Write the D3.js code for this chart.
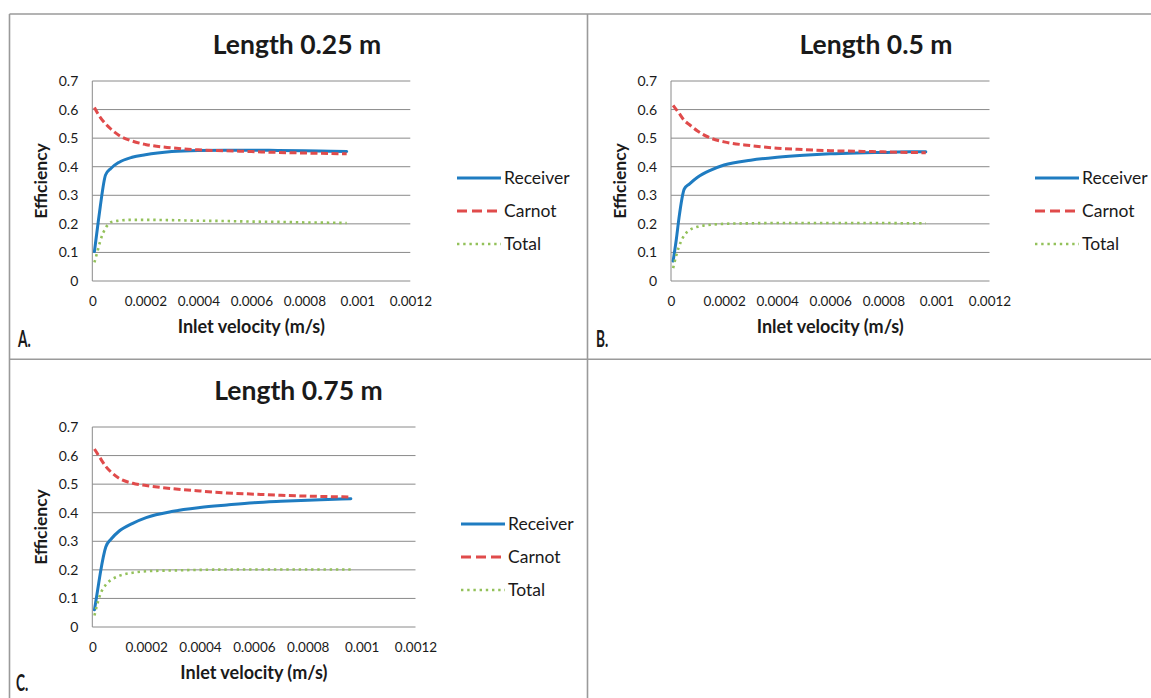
<!DOCTYPE html>
<html>
<head>
<meta charset="utf-8">
<script src="https://cdn.jsdelivr.net/npm/d3@7"></script>
<style>
  html, body { margin: 0; padding: 0; background: #fff; }
  svg { display: block; }
  text { font-family: Lato, "Open Sans", sans-serif; fill: #1a1a1a; }
</style>
</head>
<body>
<svg id="chart" width="1151" height="698"></svg>
<script>
// ---------- data ----------
const seriesNames = ["Receiver", "Carnot", "Total"];
const yTicks = [0, 0.1, 0.2, 0.3, 0.4, 0.5, 0.6, 0.7];
const xTicks = [0, 0.0002, 0.0004, 0.0006, 0.0008, 0.001, 0.0012];
const xTickLabels = ["0", "0.0002", "0.0004", "0.0006", "0.0008", "0.001", "0.0012"];
const panelTitles = ["Length 0.25 m", "Length 0.5 m", "Length 0.75 m"];
const panelLetters = ["A.", "B.", "C."];

const velocity = [0.000008, 0.00002, 0.00003, 0.00005, 0.00007, 0.0001, 0.00015, 0.0002,
                  0.0003, 0.0004, 0.0005, 0.0006, 0.0007, 0.0008, 0.0009, 0.00096];

const receiverA = [0.103, 0.19, 0.26, 0.371, 0.394, 0.415, 0.433, 0.442, 0.453, 0.457, 0.458, 0.458, 0.457, 0.456, 0.454, 0.453];
const carnotA   = [0.607, 0.587, 0.573, 0.55, 0.532, 0.51, 0.49, 0.478, 0.466, 0.459, 0.456, 0.453, 0.45, 0.448, 0.446, 0.445];
const totalA    = [0.065, 0.105, 0.14, 0.185, 0.206, 0.211, 0.214, 0.214, 0.213, 0.211, 0.21, 0.208, 0.207, 0.205, 0.204, 0.203];

const receiverB = [0.07, 0.145, 0.22, 0.322, 0.34, 0.363, 0.388, 0.406, 0.423, 0.433, 0.44, 0.445, 0.448, 0.45, 0.452, 0.452];
const carnotB   = [0.615, 0.6, 0.588, 0.562, 0.547, 0.525, 0.5, 0.487, 0.474, 0.465, 0.46, 0.456, 0.454, 0.452, 0.45, 0.449];
const totalB    = [0.045, 0.09, 0.12, 0.16, 0.178, 0.19, 0.197, 0.2, 0.202, 0.203, 0.203, 0.203, 0.203, 0.203, 0.202, 0.202];

const receiverC = [0.06, 0.13, 0.19, 0.28, 0.308, 0.336, 0.363, 0.383, 0.405, 0.418, 0.427, 0.435, 0.44, 0.444, 0.447, 0.449];
const carnotC   = [0.623, 0.605, 0.59, 0.562, 0.542, 0.52, 0.503, 0.495, 0.484, 0.476, 0.469, 0.465, 0.461, 0.458, 0.456, 0.455];
const totalC    = [0.04, 0.085, 0.115, 0.148, 0.165, 0.179, 0.19, 0.195, 0.198, 0.2, 0.201, 0.201, 0.201, 0.201, 0.201, 0.201];

// ---------- layout ----------
const svg = d3.select("#chart");
const colors = { Receiver: "#1f7cc1", Carnot: "#e04b4b", Total: "#93c15a" };
const styles = {
  Receiver: { width: 3, dash: null, legDash: null, cap: "round" },
  Carnot:   { width: 3, dash: "7,3.5", legDash: "10,5", cap: "butt" },
  Total:    { width: 2.6, dash: "2.4,3.8", legDash: "2.4,3.8", cap: "butt" }
};

// panel frames
const frame = svg.append("g").attr("stroke", "#9a9a9a").attr("stroke-width", 1.6).attr("fill", "none");
frame.append("line").attr("x1", 9.5).attr("x2", 1151).attr("y1", 14).attr("y2", 14);
frame.append("line").attr("x1", 9.5).attr("x2", 1151).attr("y1", 359.3).attr("y2", 359.3);
frame.append("line").attr("x1", 9.5).attr("x2", 9.5).attr("y1", 14).attr("y2", 698);
frame.append("line").attr("x1", 587.5).attr("x2", 587.5).attr("y1", 14).attr("y2", 698);

const panels = [
  { title: panelTitles[0], letter: panelLetters[0], x0: 92.3, x1: 410.3, yTop: 81, yBot: 281,
    titleX: 297, titleY: 54, legX: 457, legY: 178, letterX: 18, letterY: 347,
    data: [receiverA, carnotA, totalA] },
  { title: panelTitles[1], letter: panelLetters[1], x0: 671, x1: 989.5, yTop: 81, yBot: 281,
    titleX: 876, titleY: 54, legX: 1035, legY: 178, letterX: 596, letterY: 347,
    data: [receiverB, carnotB, totalB] },
  { title: panelTitles[2], letter: panelLetters[2], x0: 92.3, x1: 415.5, yTop: 427, yBot: 627,
    titleX: 298.5, titleY: 400, legX: 461, legY: 524, letterX: 16, letterY: 691,
    data: [receiverC, carnotC, totalC] }
];

panels.forEach(p => {
  const g = svg.append("g");
  const x = d3.scaleLinear().domain([0, 0.0012]).range([p.x0, p.x1]);
  const y = d3.scaleLinear().domain([0, 0.7]).range([p.yBot, p.yTop]);

  // gridlines
  g.append("g").selectAll("line").data(yTicks).join("line")
    .attr("x1", p.x0).attr("x2", p.x1)
    .attr("y1", d => y(d)).attr("y2", d => y(d))
    .attr("stroke", "#8a8a8a").attr("stroke-width", 1);
  // left axis line
  g.append("line").attr("x1", p.x0).attr("x2", p.x0).attr("y1", p.yTop).attr("y2", p.yBot)
    .attr("stroke", "#8a8a8a").attr("stroke-width", 1);

  // y axis labels
  const yAxis = d3.axisLeft(y).tickValues(yTicks).tickSize(0).tickPadding(14)
    .tickFormat(d => d3.format("~g")(d));
  const ya = g.append("g").attr("transform", `translate(${p.x0},0)`).call(yAxis);
  ya.select(".domain").remove();
  ya.selectAll("text").attr("font-family", "Lato, sans-serif").attr("font-size", 14).attr("fill", "#222");

  // x axis labels
  const xAxis = d3.axisBottom(x).tickValues(xTicks).tickSize(0).tickPadding(15)
    .tickFormat((d, i) => xTickLabels[i]);
  const xa = g.append("g").attr("transform", `translate(0,${p.yBot})`).call(xAxis);
  xa.select(".domain").remove();
  xa.selectAll("text").attr("font-family", "Lato, sans-serif").attr("font-size", 13.5).attr("fill", "#222");

  // lines
  seriesNames.forEach((name, si) => {
    const vals = p.data[si];
    const pts = velocity.map((v, i) => [v, vals[i]]);
    const line = d3.line().x(d => x(d[0])).y(d => y(d[1])).curve(d3.curveMonotoneX);
    const st = styles[name];
    g.append("path").datum(pts).attr("d", line)
      .attr("fill", "none").attr("stroke", colors[name])
      .attr("stroke-width", st.width).attr("stroke-linecap", st.cap)
      .attr("stroke-dasharray", st.dash);
  });

  // title
  g.append("text").attr("x", p.titleX).attr("y", p.titleY).attr("text-anchor", "middle")
    .attr("font-size", 26.5).attr("font-weight", 700).attr("fill", "#000").text(p.title);

  // axis titles
  g.append("text").attr("x", (p.x0 + p.x1) / 2).attr("y", p.yBot + 52).attr("text-anchor", "middle")
    .attr("font-size", 18).attr("font-weight", 700).attr("fill", "#000").text("Inlet velocity (m/s)");
  g.append("text").attr("transform", `translate(${p.x0 - 45},${(p.yTop + p.yBot) / 2}) rotate(-90)`)
    .attr("text-anchor", "middle").attr("font-size", 17.5).attr("font-weight", 700).attr("fill", "#000")
    .text("Efficiency");

  // legend
  seriesNames.forEach((name, si) => {
    const ly = p.legY + si * 33;
    const st = styles[name];
    g.append("line").attr("x1", p.legX).attr("x2", p.legX + 44).attr("y1", ly).attr("y2", ly)
      .attr("stroke", colors[name]).attr("stroke-width", st.width)
      .attr("stroke-dasharray", st.legDash);
    g.append("text").attr("x", p.legX + 47).attr("y", ly + 6)
      .attr("font-size", 17.5).attr("fill", "#111").text(name);
  });

  // panel letter
  g.append("text").attr("transform", `translate(${p.letterX},${p.letterY}) scale(0.62,1)`)
    .attr("font-family", "'Liberation Sans Narrow', 'DejaVu Sans Condensed', sans-serif")
    .attr("font-size", 22).attr("font-weight", 700).attr("fill", "#2a2a2a").text(p.letter);
});
</script>
</body>
</html>
